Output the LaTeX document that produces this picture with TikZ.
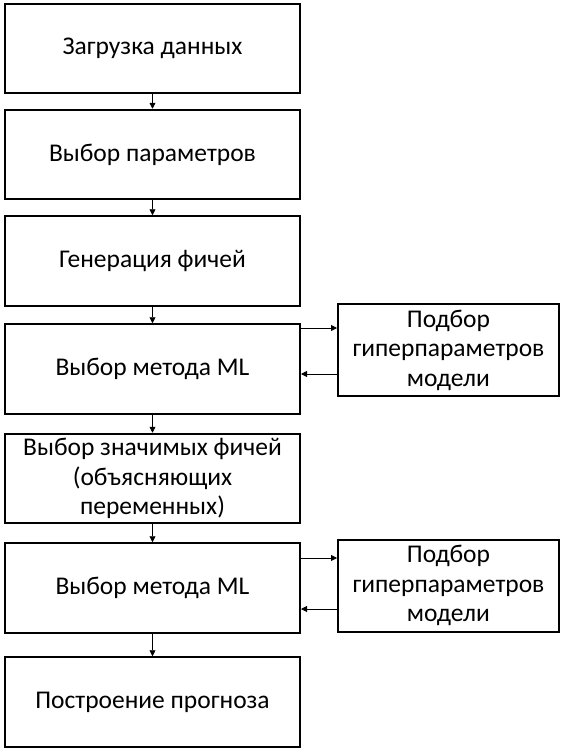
\documentclass[tikz,border=0pt]{standalone}
\usepackage{fontspec}
\setmainfont{Carlito}
\usetikzlibrary{arrows.meta}

\begin{document}
\begin{tikzpicture}
  [x=1pt,y=-1pt,
   every node/.style={draw,line width=2pt,align=center,inner sep=0pt,
     font=\fontsize{25.5}{29.5}\selectfont},
   stagebox/.style={minimum width=295pt,minimum height=89.5pt},
   tunebox/.style={minimum width=221pt,minimum height=92pt},
   flow/.style={-{Triangle[width=6pt,length=6pt]},line width=0.8pt}]
  \useasboundingbox (0,0) rectangle (573,752);

  \node[stagebox] (load) at (152.5,48.5) {Загрузка данных};
  \node[stagebox] (params) at (152.5,154.5) {Выбор параметров};
  \node[stagebox] (feats) at (152.5,261) {Генерация фичей};
  \node[stagebox] (method1) at (152.5,369) {Выбор метода ML};
  \node[stagebox] (select) at (152.5,478.5) {Выбор значимых фичей\\(объясняющих\\переменных)};
  \node[stagebox] (method2) at (152.5,588) {Выбор метода ML};
  \node[stagebox] (forecast) at (152.5,702) {Построение прогноза};

  \node[tunebox] (tune1) at (448.5,350) {Подбор\\гиперпараметров\\модели};
  \node[tunebox] (tune2) at (448.5,585.5) {Подбор\\гиперпараметров\\модели};

  \foreach \from/\to in {load/params,params/feats,feats/method1,method1/select,select/method2,method2/forecast}
    \draw[flow] (\from) -- (\to);

  % links to the tuning boxes
  \coordinate (m1out) at ([yshift=41pt]method1.east);
  \coordinate (m1in) at ([yshift=-5pt]method1.east);
  \coordinate (m2out) at ([yshift=30pt]method2.east);
  \coordinate (m2in) at ([yshift=-21pt]method2.east);
  \draw[flow] (m1out) -- (m1out -| tune1.west);
  \draw[flow] (m1in -| tune1.west) -- (m1in);
  \draw[flow] (m2out) -- (m2out -| tune2.west);
  \draw[flow] (m2in -| tune2.west) -- (m2in);

\end{tikzpicture}
\end{document}
